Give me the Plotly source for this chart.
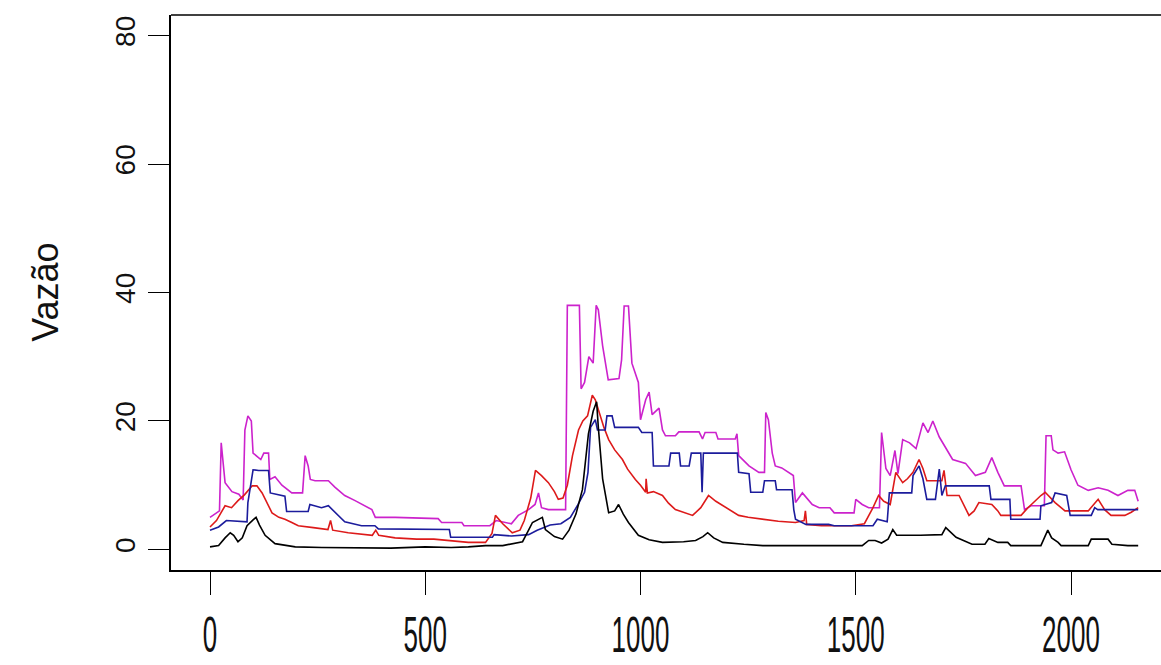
import plotly.graph_objects as go

# ---------------- data ----------------
black_x = [0, 20, 35, 47, 55, 65, 75, 86, 100, 107, 115, 128, 151, 175, 198, 260, 340, 420, 500, 560, 600, 640, 680, 700, 726, 740, 749, 772, 779, 800, 819, 834, 850, 865, 879, 890, 898, 902, 912, 926, 940, 949, 960, 972, 995, 1020, 1051, 1100, 1128, 1145, 1156, 1170, 1191, 1240, 1284, 1360, 1440, 1515, 1530, 1545, 1560, 1575, 1586, 1595, 1650, 1700, 1709, 1733, 1770, 1800, 1809, 1830, 1853, 1860, 1930, 1946, 1955, 1970, 1977, 2040, 2047, 2086, 2095, 2132, 2156]
black_y = [0.4, 0.6, 1.8, 2.6, 2.2, 1.2, 1.8, 3.7, 4.6, 5.0, 3.8, 2.2, 0.9, 0.6, 0.4, 0.3, 0.3, 0.2, 0.4, 0.3, 0.4, 0.6, 0.6, 0.9, 1.2, 3.0, 4.2, 5.0, 3.1, 2.0, 1.6, 3.0, 5.5, 9.3, 18.0, 21.5, 23.0, 19.0, 11.0, 5.7, 6.0, 7.0, 5.5, 4.2, 2.2, 1.5, 1.1, 1.2, 1.4, 2.0, 2.6, 1.8, 1.1, 0.8, 0.6, 0.6, 0.6, 0.6, 1.4, 1.4, 1.0, 1.6, 3.1, 2.2, 2.2, 2.3, 3.4, 1.9, 0.8, 0.8, 1.7, 1.1, 1.1, 0.6, 0.6, 3.0, 1.8, 1.1, 0.6, 0.6, 1.6, 1.6, 0.8, 0.6, 0.6]

red_x = [0, 15, 35, 50, 65, 80, 98, 109, 121, 135, 144, 160, 174, 190, 205, 240, 274, 280, 285, 321, 350, 377, 385, 392, 430, 480, 520, 560, 600, 640, 655, 663, 680, 702, 720, 730, 745, 756, 770, 786, 800, 809, 820, 830, 842, 856, 866, 877, 888, 895, 905, 915, 926, 940, 958, 970, 988, 1000, 1012, 1013, 1016, 1030, 1051, 1065, 1081, 1100, 1121, 1140, 1158, 1175, 1191, 1210, 1228, 1250, 1284, 1320, 1360, 1380, 1383, 1386, 1420, 1490, 1520, 1540, 1553, 1565, 1580, 1593, 1609, 1620, 1633, 1647, 1656, 1665, 1700, 1705, 1712, 1740, 1763, 1775, 1786, 1816, 1830, 1837, 1884, 1900, 1930, 1940, 1963, 1986, 2040, 2063, 2078, 2093, 2125, 2140, 2156]
red_y = [3.5, 4.5, 6.8, 6.5, 7.6, 8.5, 9.9, 9.9, 8.8, 7.0, 5.7, 5.0, 4.7, 4.2, 3.7, 3.4, 3.1, 4.5, 3.0, 2.6, 2.4, 2.2, 3.0, 2.2, 1.8, 1.6, 1.6, 1.3, 1.1, 1.1, 2.5, 5.3, 4.0, 2.6, 3.0, 4.5, 8.0, 12.3, 11.5, 10.4, 9.0, 7.8, 8.0, 10.0, 14.6, 18.6, 20.0, 20.8, 24.0, 23.3, 21.0, 19.0, 17.1, 15.5, 14.0, 12.5, 10.9, 10.0, 8.9, 11.0, 8.8, 9.0, 8.4, 7.2, 6.2, 5.8, 5.3, 6.5, 8.4, 7.5, 6.8, 6.0, 5.3, 5.0, 4.7, 4.4, 4.2, 4.5, 6.0, 3.9, 3.7, 3.7, 4.0, 6.5, 8.4, 7.5, 7.0, 12.0, 10.4, 11.0, 12.0, 14.0, 12.6, 10.7, 10.7, 12.3, 8.4, 8.4, 5.3, 6.0, 7.3, 7.0, 6.0, 5.3, 5.3, 6.5, 8.4, 8.9, 7.3, 6.0, 6.0, 7.8, 6.2, 5.3, 5.3, 5.8, 6.5]

blue_x = [0, 20, 38, 86, 88, 100, 113, 136, 140, 174, 178, 228, 232, 259, 275, 298, 313, 352, 383, 391, 556, 559, 656, 660, 700, 740, 760, 790, 815, 837, 855, 870, 878, 884, 895, 900, 918, 922, 934, 940, 995, 1003, 1027, 1030, 1066, 1070, 1090, 1093, 1113, 1118, 1140, 1143, 1146, 1225, 1228, 1252, 1256, 1284, 1288, 1313, 1316, 1352, 1356, 1360, 1384, 1437, 1450, 1540, 1550, 1573, 1578, 1630, 1633, 1647, 1656, 1665, 1685, 1694, 1700, 1708, 1810, 1814, 1858, 1860, 1928, 1930, 1955, 1963, 1990, 1998, 2047, 2055, 2062, 2156]
blue_y = [3.0, 3.5, 4.5, 4.3, 7.3, 12.4, 12.3, 12.3, 8.8, 8.3, 5.9, 5.9, 7.0, 6.5, 6.8, 5.3, 4.3, 3.7, 3.7, 3.2, 3.1, 1.9, 1.9, 2.3, 2.1, 2.3, 3.0, 3.8, 4.0, 5.0, 7.0, 8.9, 12.0, 19.0, 20.2, 18.6, 18.6, 20.8, 20.8, 19.0, 19.0, 18.2, 18.2, 13.0, 13.0, 15.0, 15.0, 13.0, 13.0, 15.0, 15.0, 8.9, 15.0, 15.0, 12.0, 11.8, 8.9, 8.9, 10.7, 10.7, 9.3, 9.3, 6.2, 4.7, 3.9, 3.9, 3.7, 3.7, 4.7, 4.3, 8.8, 8.8, 11.5, 13.0, 11.0, 7.8, 7.8, 12.5, 8.4, 9.9, 9.9, 7.8, 7.8, 4.7, 4.7, 6.8, 7.3, 8.8, 8.4, 5.3, 5.3, 6.5, 6.2, 6.2]

magenta_x = [0, 15, 22, 26, 30, 35, 51, 67, 77, 81, 88, 96, 100, 118, 125, 136, 139, 151, 167, 190, 215, 221, 228, 233, 244, 275, 290, 313, 337, 376, 384, 430, 530, 538, 585, 590, 650, 665, 700, 716, 740, 755, 763, 770, 786, 826, 830, 858, 862, 870, 880, 890, 897, 902, 912, 925, 950, 956, 962, 972, 980, 995, 1000, 1012, 1020, 1027, 1043, 1051, 1058, 1081, 1089, 1136, 1144, 1150, 1175, 1180, 1220, 1224, 1228, 1252, 1275, 1288, 1291, 1297, 1306, 1313, 1328, 1344, 1355, 1360, 1376, 1399, 1415, 1440, 1450, 1496, 1500, 1515, 1530, 1555, 1560, 1570, 1580, 1591, 1598, 1609, 1625, 1640, 1656, 1668, 1679, 1694, 1709, 1725, 1755, 1778, 1801, 1816, 1830, 1845, 1884, 1892, 1907, 1938, 1942, 1954, 1958, 1970, 1985, 2000, 2016, 2040, 2063, 2086, 2109, 2132, 2148, 2156]
magenta_y = [5.0, 5.7, 6.0, 16.6, 14.0, 10.4, 9.0, 8.6, 7.7, 18.6, 20.8, 20.0, 15.0, 14.0, 15.0, 15.0, 10.9, 11.3, 10.0, 8.8, 8.8, 14.6, 13.0, 10.9, 10.7, 10.7, 9.7, 8.4, 7.6, 6.2, 5.0, 5.0, 4.8, 4.2, 4.2, 3.7, 3.7, 4.5, 4.0, 5.3, 6.2, 7.0, 8.8, 6.5, 6.2, 6.2, 38.0, 38.0, 25.0, 26.0, 30.0, 29.0, 38.0, 37.3, 31.7, 26.4, 26.6, 29.5, 37.9, 37.9, 29.0, 26.0, 20.2, 23.3, 24.5, 21.0, 22.0, 18.6, 17.7, 17.7, 18.3, 18.3, 17.2, 18.2, 18.2, 17.2, 17.2, 18.0, 14.6, 13.0, 12.0, 12.0, 21.3, 20.2, 15.0, 13.0, 12.7, 12.0, 11.5, 7.3, 8.8, 7.0, 6.5, 6.5, 5.7, 5.7, 7.8, 7.0, 6.5, 6.5, 18.2, 12.6, 11.5, 15.4, 11.8, 17.1, 16.6, 15.7, 19.7, 18.2, 20.0, 17.5, 15.7, 14.0, 13.4, 11.5, 12.0, 14.3, 12.0, 9.9, 9.9, 6.2, 6.8, 6.8, 17.7, 17.7, 15.5, 15.0, 15.2, 12.4, 10.0, 9.2, 9.6, 9.2, 8.4, 9.2, 9.2, 7.5]

x_ticks = [0, 500, 1000, 1500, 2000]
y_ticks = [0, 20, 40, 60, 80]
y_title = "Vazão"

# ---------------- figure ----------------
fig = go.Figure()
series = [
    (magenta_x, magenta_y, "#cc22cc"),
    (red_x, red_y, "#dd1a1a"),
    (blue_x, blue_y, "#1c1c9c"),
    (black_x, black_y, "#000000"),
]
for xs, ys, col in series:
    fig.add_trace(go.Scatter(x=xs, y=ys, mode="lines",
                             line=dict(color=col, width=1.6),
                             showlegend=False, hoverinfo="skip"))

font_main = "Liberation Sans, Arial, sans-serif"
fig.update_layout(
    width=1161, height=665,
    margin=dict(l=171, r=0, t=15, b=95),
    paper_bgcolor="white", plot_bgcolor="white",
    showlegend=False,
    xaxis=dict(range=[-90.6, 2209], tickvals=x_ticks, ticktext=[str(v) for v in x_ticks],
               showgrid=False, zeroline=False, showline=True, linecolor="black", linewidth=1.6,
               ticks="outside", ticklen=23, tickwidth=1.3, tickcolor="black",
               tickfont=dict(family=font_main, size=26, color="#111"),
               ticklabelstandoff=18),
    yaxis=dict(range=[-3.2, 83.2], tickvals=y_ticks, ticktext=[str(v) for v in y_ticks],
               showgrid=False, zeroline=False, showline=True, linecolor="black", linewidth=1.6,
               ticks="outside", ticklen=21, tickwidth=1.3, tickcolor="black",
               tickangle=-90,
               tickfont=dict(family=font_main, size=28, color="#111"),
               ticklabelstandoff=2),
    shapes=[dict(type="line", xref="paper", yref="paper", x0=0, x1=1, y0=1, y1=1,
                 line=dict(color="black", width=1.6))],
    annotations=[dict(text=y_title, xref="paper", yref="paper", x=-0.127, y=0.5,
                      xanchor="center", yanchor="middle", textangle=-90, showarrow=False,
                      font=dict(family=font_main, size=36, color="#111"))],
)

post = """
var gd = document.getElementById('{plot_id}');
function stretchX(){
  gd.querySelectorAll('.xtick text').forEach(function(t){
    var tr = t.getAttribute('transform') || '';
    if (tr.indexOf('scale(') >= 0) return;
    var b = t.getBBox(); var cy = b.y + b.height/2;
    t.setAttribute('transform', tr + ' translate(0,' + cy + ') scale(1,1.9) translate(0,' + (-cy) + ')');
  });
}
stretchX();
gd.on('plotly_afterplot', stretchX);
setTimeout(stretchX, 50);
"""
fig.write_html("out.html", post_script=post)
